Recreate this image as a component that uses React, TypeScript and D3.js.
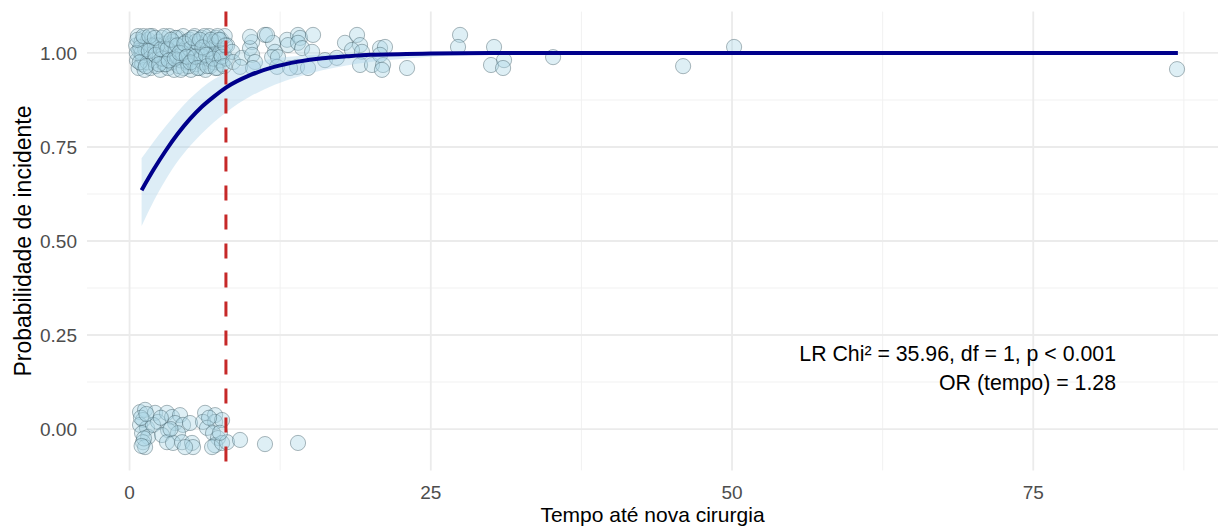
import React from "react";
import * as d3 from "d3";

// ---- data ----
const xTicks = [0, 25, 50, 75];
const xMinor = [12.5, 37.5, 62.5, 87.5];
const yTicks = [0, 0.25, 0.5, 0.75, 1.0];
const yTickLabels = ["0.00", "0.25", "0.50", "0.75", "1.00"];
const yMinor = [0.125, 0.375, 0.625, 0.875];

const cutoff = 8;

// fitted curve
const curveX = [1, 2, 3, 4, 5, 6, 7, 8, 10, 12, 14, 16, 18, 20, 25, 30, 40, 60, 87];
const fitP = [0.635, 0.69, 0.74, 0.785, 0.824, 0.857, 0.884, 0.908, 0.941, 0.963, 0.977, 0.986, 0.991, 0.995, 0.9985, 0.9996, 1.0, 1.0, 1.0];
const lowerP = [0.54, 0.606, 0.663, 0.712, 0.752, 0.786, 0.816, 0.842, 0.884, 0.915, 0.937, 0.954, 0.967, 0.976, 0.99, 0.9957, 0.9992, 1.0, 1.0];
const upperP = [0.72, 0.764, 0.805, 0.844, 0.878, 0.907, 0.93, 0.947, 0.971, 0.985, 0.992, 0.9958, 0.9978, 0.9989, 0.9998, 1.0, 1.0, 1.0, 1.0];

// jittered observations, incident = 1
const pointsTop: [number, number][] = [
  [0.55, 1.02], [0.62, 0.98], [0.7, 1.045], [0.75, 0.96], [0.8, 1.005],
  [1.0, 1.03], [1.05, 0.97], [1.1, 0.99], [1.2, 1.04], [1.25, 0.955],
  [1.4, 1.015], [1.5, 0.975], [1.55, 1.035], [1.7, 0.995], [1.75, 0.96],
  [1.9, 1.045], [2.0, 1.02], [2.05, 0.98], [2.2, 0.965], [2.25, 1.0],
  [2.4, 1.03], [2.5, 0.99], [2.55, 0.955], [2.7, 1.04], [2.8, 1.01],
  [2.9, 0.97], [3.0, 1.025], [3.1, 0.985], [3.2, 0.96], [3.3, 1.045],
  [3.4, 1.0], [3.5, 0.975], [3.6, 1.03], [3.7, 0.955], [3.8, 1.01],
  [3.9, 0.99], [4.0, 1.04], [4.1, 0.965], [4.2, 1.02], [4.3, 0.98],
  [4.45, 1.045], [4.5, 0.96], [4.6, 1.005], [4.7, 1.03], [4.8, 0.975],
  [4.9, 0.995], [5.0, 1.035], [5.1, 0.955], [5.2, 1.015], [5.3, 0.985],
  [5.4, 1.045], [5.5, 0.97], [5.6, 1.0], [5.7, 1.025], [5.8, 0.96],
  [5.9, 0.99], [6.0, 1.04], [6.1, 0.975], [6.2, 1.01], [6.3, 0.955],
  [6.4, 1.03], [6.5, 0.985], [6.6, 1.045], [6.7, 0.965], [6.8, 1.005],
  [6.9, 1.02], [7.0, 0.975], [7.1, 0.995], [7.2, 1.04], [7.3, 0.96],
  [7.4, 1.015], [7.5, 0.98], [7.6, 1.035], [7.7, 0.97], [7.8, 1.0],
  [7.9, 1.045], [8.0, 0.985], [8.1, 1.02],
  [1.0, 1.0], [1.3, 1.01], [2.3, 1.02], [3.0, 0.97], [3.5, 1.02], [4.0, 0.99],
  [4.4, 1.0], [5.0, 1.01], [5.5, 1.03], [6.0, 0.99], [6.5, 1.01], [7.0, 1.03],
  [7.5, 1.0], [1.8, 1.02], [2.7, 0.985], [0.9, 1.015], [3.8, 1.04], [6.2, 1.045],
  [7.3, 1.045], [4.9, 0.965],
  [0.6, 1.0], [0.65, 1.035], [0.85, 0.975], [1.15, 1.045], [1.35, 0.965],
  [1.6, 1.005], [1.65, 1.045], [2.1, 1.04], [2.15, 0.995], [2.45, 0.97],
  [2.6, 1.01], [2.85, 1.045], [3.15, 1.01], [3.25, 0.98], [3.45, 1.035],
  [3.75, 0.985], [3.95, 1.02], [4.15, 1.0], [4.25, 0.955], [4.55, 1.025],
  [4.75, 0.99], [5.05, 0.975], [5.25, 1.04], [5.45, 0.99], [5.65, 0.96],
  [5.85, 1.035], [6.05, 1.015], [6.35, 0.995], [6.45, 0.965], [6.75, 1.035],
  [6.95, 0.985], [7.15, 0.96], [7.45, 1.035], [7.65, 0.99], [7.85, 0.965],
  [7.95, 1.02],
  [8.51, 1.003], [8.59, 0.976], [9.34, 0.987], [9.17, 0.963], [10.17, 1.029],
  [10.0, 1.013], [10.17, 0.995], [10.41, 0.976], [10.25, 0.96], [11.24, 1.048],
  [11.91, 1.027], [12.07, 1.003], [11.83, 0.989], [12.32, 0.989], [12.24, 0.963],
  [13.07, 1.035], [13.15, 1.021], [13.98, 1.048], [14.15, 1.04], [13.98, 1.027],
  [14.32, 1.013], [15.23, 1.048], [15.15, 1.003], [13.9, 0.963], [14.81, 0.96],
  [16.22, 0.981], [13.32, 0.96], [10.0, 1.043], [11.41, 1.048],
  [17.88, 1.027], [18.88, 1.048], [19.13, 1.021], [18.46, 1.008], [19.29, 1.003],
  [19.13, 0.968], [20.12, 0.968], [20.79, 1.013], [21.2, 1.016], [20.79, 0.995],
  [21.04, 0.968], [20.95, 0.955], [23.03, 0.96], [17.2, 0.987],
  [27.43, 1.048], [27.26, 1.016], [30.25, 1.016], [30.0, 0.968], [31.08, 0.981],
  [31.0, 0.96], [35.15, 0.989], [45.94, 0.965], [50.17, 1.016], [86.93, 0.957],
];

// jittered observations, incident = 0
const pointsBottom: [number, number][] = [
  [0.87, 0.045], [1.29, 0.051], [2.12, 0.043], [1.12, 0.024], [0.87, 0.011],
  [1.45, 0.003], [1.04, -0.011], [1.54, -0.021], [1.12, -0.035], [1.29, -0.048],
  [2.37, 0.019], [1.95, 0.011], [3.11, 0.043], [3.53, 0.032], [4.19, 0.037],
  [3.78, 0.016], [4.44, 0.011], [5.02, 0.016], [3.2, -0.003], [2.7, -0.016],
  [4.02, -0.011], [3.11, -0.035], [3.61, -0.037], [4.36, -0.035], [5.19, -0.037],
  [5.27, -0.048], [4.61, -0.048], [6.27, 0.043], [7.1, 0.037], [6.1, 0.019],
  [7.1, 0.019], [7.68, 0.024], [6.43, 0.003], [6.93, -0.011], [7.34, -0.024],
  [7.1, -0.043], [6.85, -0.048], [7.68, -0.037], [8.09, -0.035], [9.17, -0.029],
  [11.24, -0.04], [13.98, -0.037],
  [0.95, 0.03], [1.2, -0.025], [1.4, 0.04], [1.0, -0.045], [2.6, 0.03],
  [3.4, 0.0], [6.6, 0.03], [7.5, -0.01],
];

const annotationLines = ["LR Chi\u00b2 = 35.96, df = 1, p < 0.001", "OR (tempo) = 1.28"];
const xTitle = "Tempo até nova cirurgia";
const yTitle = "Probabilidade de incidente";

// ---- layout ----
const W = 1221;
const H = 528;
const panel = { left: 87, right: 1218, top: 11.6, bottom: 470.4 };
const FONT = "'Liberation Sans', Arial, Helvetica, sans-serif";

export default function App() {
  const x = d3.scaleLinear().domain([-3.53, 90.33]).range([panel.left, panel.right]);
  const y = d3.scaleLinear().domain([-0.11, 1.11]).range([panel.bottom, panel.top]);

  const idx = curveX.map((_, i) => i);
  const line = d3
    .line<number>()
    .x((i) => x(curveX[i]))
    .y((i) => y(fitP[i]))
    .curve(d3.curveMonotoneX);
  const area = d3
    .area<number>()
    .x((i) => x(curveX[i]))
    .y0((i) => y(lowerP[i]))
    .y1((i) => y(upperP[i]))
    .curve(d3.curveMonotoneX);

  const allPts = [...pointsTop, ...pointsBottom];

  return (
    <svg
      width={W}
      height={H}
      style={{ position: "absolute", left: 0, top: 0, background: "#fff" }}
      fontFamily={FONT}
    >
      {/* minor grid */}
      {xMinor.map((v) => (
        <line key={"xm" + v} x1={x(v)} x2={x(v)} y1={panel.top} y2={panel.bottom} stroke="#f1f1f1" strokeWidth={1} />
      ))}
      {yMinor.map((v) => (
        <line key={"ym" + v} x1={panel.left} x2={panel.right} y1={y(v)} y2={y(v)} stroke="#f1f1f1" strokeWidth={1} />
      ))}
      {/* major grid */}
      {xTicks.map((v) => (
        <line key={"xM" + v} x1={x(v)} x2={x(v)} y1={panel.top} y2={panel.bottom} stroke="#ebebeb" strokeWidth={1.8} />
      ))}
      {yTicks.map((v) => (
        <line key={"yM" + v} x1={panel.left} x2={panel.right} y1={y(v)} y2={y(v)} stroke="#ebebeb" strokeWidth={1.8} />
      ))}

      {/* points */}
      {allPts.map(([px, py], i) => (
        <circle
          key={"p" + i}
          cx={x(px)}
          cy={y(py)}
          r={7.6}
          fill="#add8e6"
          fillOpacity={0.4}
          stroke="#3b5560"
          strokeOpacity={0.42}
          strokeWidth={1}
        />
      ))}

      {/* confidence band and fitted curve */}
      <path d={area(idx) || ""} fill="#a9d2e8" fillOpacity={0.4} stroke="none" />
      <path d={line(idx) || ""} fill="none" stroke="#00008b" strokeWidth={4} />

      {/* cutoff */}
      <line
        x1={x(cutoff)}
        x2={x(cutoff)}
        y1={panel.top}
        y2={panel.bottom}
        stroke="#c62828"
        strokeWidth={3}
        strokeDasharray="15,14"
      />

      {/* annotation */}
      {annotationLines.map((t, i) => (
        <text key={"a" + i} x={1116} y={361 + i * 29} textAnchor="end" fontSize={21.3} fill="#000">
          {t}
        </text>
      ))}

      {/* axis tick labels */}
      {yTicks.map((v, i) => (
        <text key={"yl" + v} x={77} y={y(v)} dy="0.35em" textAnchor="end" fontSize={19} fill="#4d4d4d">
          {yTickLabels[i]}
        </text>
      ))}
      {xTicks.map((v) => (
        <text key={"xl" + v} x={x(v)} y={499} textAnchor="middle" fontSize={19} fill="#4d4d4d">
          {v}
        </text>
      ))}

      {/* axis titles */}
      <text x={(panel.left + panel.right) / 2} y={522} textAnchor="middle" fontSize={21} fill="#000">
        {xTitle}
      </text>
      <text
        transform={`translate(31, ${(panel.top + panel.bottom) / 2}) rotate(-90)`}
        textAnchor="middle"
        fontSize={23}
        fill="#000"
      >
        {yTitle}
      </text>
    </svg>
  );
}
